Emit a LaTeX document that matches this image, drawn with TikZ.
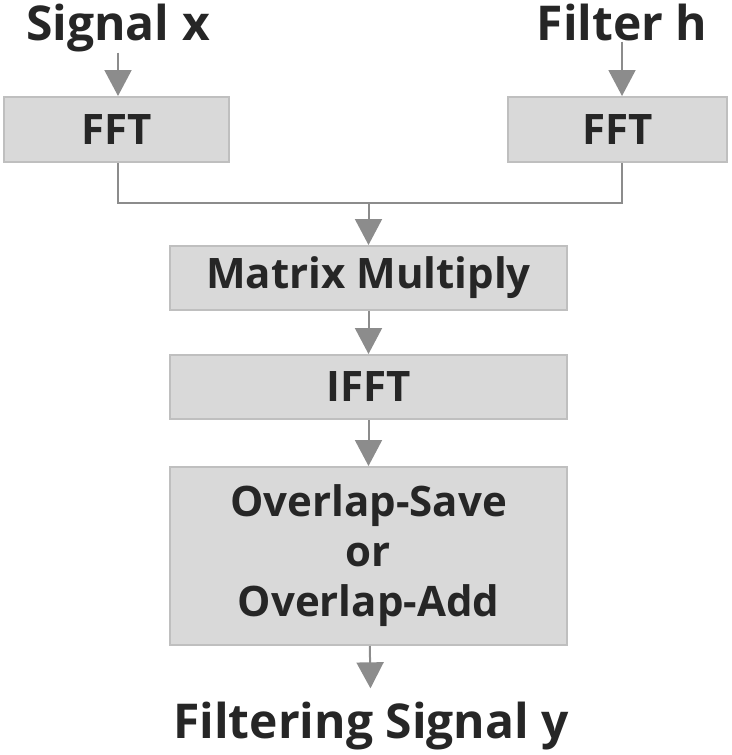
\documentclass[tikz,border=0pt]{standalone}
\usepackage{fontspec}
\setmainfont{Open Sans}
\usetikzlibrary{arrows.meta}
\definecolor{boxfill}{HTML}{D9D9D9}
\definecolor{boxline}{HTML}{BFBFBF}
\definecolor{wire}{HTML}{8C8C8C}
\definecolor{ink}{HTML}{262626}
\tikzset{
  stage/.style={draw=boxline, line width=2pt, fill=boxfill, text=ink,
    font=\bfseries\fontsize{42}{50}\selectfont, align=center, inner sep=0pt},
  label/.style={text=ink, font=\bfseries\fontsize{48}{56}\selectfont, inner sep=1pt},
  wire/.style={draw=wire, line width=2pt},
  flow/.style={wire, -{Triangle[width=27pt,length=26pt]}}
}
\begin{document}
\begin{tikzpicture}[x=1pt,y=-1pt]
  \useasboundingbox (0,0) rectangle (731,755);
  \node[label, anchor=base] (sigx) at (118,40) {Signal x};
  \node[label, anchor=base] (filh) at (622,40) {Filter h};
  \node[stage, minimum width=225, minimum height=65] (fftx) at (116.5,129.5) {FFT};
  \node[stage, minimum width=219, minimum height=65] (ffth) at (617.5,129.5) {FFT};
  \coordinate (join) at (368.5,203);
  \node[stage, minimum width=397, minimum height=64] (mult) at (368.5,278) {Matrix Multiply};
  \node[stage, minimum width=397, minimum height=64] (ifft) at (368.5,387) {IFFT};
  \node[stage, minimum width=397, minimum height=178] (ola) at (368.5,556)
    {Overlap-Save\\or\\Overlap-Add};
  \node[label, anchor=base] (out) at (371,738) {Filtering Signal y};
  \draw[flow] (sigx.south) -- (sigx.south |- fftx.north);
  \draw[flow] (filh.south) -- (filh.south |- ffth.north);
  \draw[wire] (fftx.south -| sigx.south) |- (join) -| (ffth.south -| filh.south);
  \draw[flow] (join) -- (mult);
  \draw[flow] (mult) -- (ifft);
  \draw[flow] (ifft) -- (ola);
  \draw[flow, shorten >=12pt] (ola) -- (out);
\end{tikzpicture}
\end{document}
